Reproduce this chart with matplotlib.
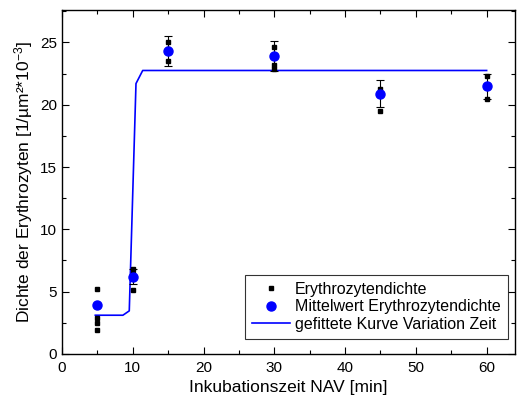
import numpy as np
import matplotlib
matplotlib.use('Agg')
import matplotlib.pyplot as plt
from matplotlib.ticker import MultipleLocator

plt.rcParams['font.family'] = ['Liberation Sans', 'DejaVu Sans']
plt.rcParams['mathtext.fontset'] = 'custom'
plt.rcParams['mathtext.rm'] = 'Liberation Sans'
plt.rcParams['mathtext.it'] = 'Liberation Sans'

# Einzelwerte
einzel_zeit = [5, 5, 5, 5, 5, 10, 10, 10, 15, 15, 15, 30, 30, 30, 45, 45, 60, 60]
einzel_dichte = [5.2, 3.9, 2.9, 2.5, 1.9, 6.8, 6.4, 5.1, 25.0, 24.5, 23.5,
                 24.6, 23.2, 22.9, 21.3, 19.5, 22.3, 20.5]

# Mittelwerte
mittel_zeit = [5, 10, 15, 30, 45, 60]
mittel_dichte = [3.9, 6.2, 24.3, 23.9, 20.9, 21.5]
mittel_fehler = [0.0, 0.6, 1.2, 1.2, 1.05, 1.0]

# gefittete Kurve
fit_zeit = [4.7, 8.6, 9.5, 10.45, 11.4, 60]
fit_dichte = [3.1, 3.1, 3.45, 21.7, 22.75, 22.75]

fig = plt.figure(figsize=(5.17, 4.03), dpi=100)
ax = fig.add_axes([0.12, 0.122, 0.876, 0.853])

ax.plot(einzel_zeit, einzel_dichte, 's', color='black', markersize=2.2,
        linestyle='none', label='Erythrozytendichte', zorder=3)
ax.errorbar(mittel_zeit, mittel_dichte, yerr=mittel_fehler, fmt='none',
            ecolor='black', elinewidth=0.8, capsize=3, capthick=0.8, zorder=2)
ax.plot(mittel_zeit, mittel_dichte, 'o', color='#0000ff', markersize=6.5,
        linestyle='none', label='Mittelwert Erythrozytendichte', zorder=4)
ax.plot(fit_zeit, fit_dichte, '-', color='#0000ff', linewidth=1.2,
        label='gefittete Kurve Variation Zeit', zorder=1)

ax.set_xlim(0, 64)
ax.set_ylim(0, 27.6)
ax.xaxis.set_major_locator(MultipleLocator(10))
ax.xaxis.set_minor_locator(MultipleLocator(5))
ax.yaxis.set_major_locator(MultipleLocator(5))
ax.yaxis.set_minor_locator(MultipleLocator(2.5))
ax.tick_params(which='both', direction='in', top=True, right=True,
               labelsize=11, width=0.8, colors='black')
ax.tick_params(axis='x', pad=5)
ax.tick_params(which='major', length=5)
ax.tick_params(which='minor', length=3)
for s in ax.spines.values():
    s.set_linewidth(1.0)

ax.set_xlabel('Inkubationszeit NAV [min]', fontsize=12.5, labelpad=4)
ax.set_ylabel('Dichte der Erythrozyten [1/µm²*10$^{-3}$]', fontsize=12.5,
              labelpad=4)

leg = ax.legend(loc='lower right', bbox_to_anchor=(0.985, 0.044),
                borderaxespad=0, fontsize=11.5, frameon=True, fancybox=False,
                edgecolor='black', handlelength=2.4, labelspacing=0.15,
                borderpad=0.45, handletextpad=0.3)
leg.get_frame().set_linewidth(0.8)

fig.savefig('out.png', dpi=100)
